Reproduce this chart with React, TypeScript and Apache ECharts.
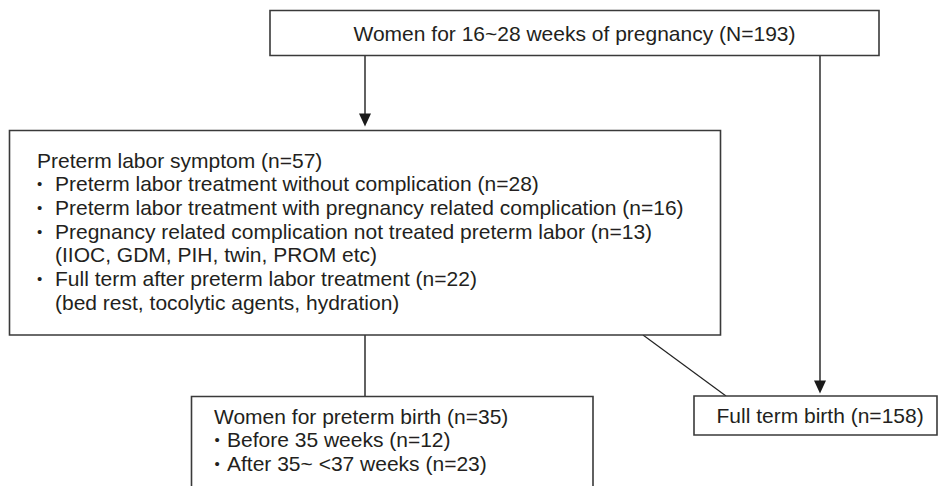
import React, { useEffect, useRef } from "react";
import * as echarts from "echarts";

const topText = "Women for 16~28 weeks of pregnancy (N=193)";
const symptomTitle = "Preterm labor symptom (n=57)";
const symptomItems: string[][] = [
  ["Preterm labor treatment without complication (n=28)"],
  ["Preterm labor treatment with pregnancy related complication (n=16)"],
  ["Pregnancy related complication not treated preterm labor (n=13)", "(IIOC, GDM, PIH, twin, PROM etc)"],
  ["Full term after preterm labor treatment (n=22)", "(bed rest, tocolytic agents, hydration)"],
];
const pretermTitle = "Women for preterm birth (n=35)";
const pretermItems = ["Before 35 weeks (n=12)", "After 35~ <37 weeks (n=23)"];
const fullTermText = "Full term birth (n=158)";

const FONT = "Liberation Sans, Arial, Helvetica, sans-serif";
const TEXT_COLOR = "#231f20";
const LINE_COLOR = "#3a3a3a";

function txt(text: string, x: number, y: number, align: string = "left", size = 21) {
  return {
    type: "text",
    x,
    y,
    silent: true,
    style: {
      text,
      fill: TEXT_COLOR,
      fontSize: size,
      fontFamily: FONT,
      textAlign: align,
      textVerticalAlign: "middle",
    },
  };
}

function box(x: number, y: number, w: number, h: number) {
  return {
    type: "rect",
    shape: { x, y, width: w, height: h },
    style: { fill: "#fff", stroke: LINE_COLOR, lineWidth: 1.6 },
  };
}

function seg(x1: number, y1: number, x2: number, y2: number, w = 1.6, color = LINE_COLOR) {
  return {
    type: "line",
    shape: { x1, y1, x2, y2 },
    style: { stroke: color, lineWidth: w },
  };
}

function arrowHead(x: number, tipY: number) {
  return {
    type: "polygon",
    shape: { points: [[x - 6, tipY - 13], [x + 6, tipY - 13], [x, tipY]] },
    style: { fill: "#1a1a1a" },
  };
}

export default function App() {
  const ref = useRef<HTMLDivElement>(null);
  useEffect(() => {
    document.body.style.margin = "0";
    if (!ref.current) return;
    const chart = echarts.init(ref.current, null, { renderer: "svg" });
    const els: any[] = [];

    // connectors
    els.push(seg(365, 56, 365, 116));
    els.push(arrowHead(365, 126.5));
    els.push(seg(820, 56, 820, 383));
    els.push(arrowHead(820, 393.5));
    els.push(seg(365, 335, 365, 396.5));
    els.push(seg(643, 335, 726, 396, 1.2, "#222"));

    // boxes
    els.push(box(270, 10.5, 609, 45));
    els.push(box(9.5, 130.5, 711, 204.5));
    els.push(box(191.5, 396.5, 401.5, 110));
    els.push(box(694, 396, 243, 39));

    // top box text
    els.push(txt(topText, 574.5, 33, "center"));

    // symptom box
    const lh = 23.7;
    let y = 160;
    els.push(txt(symptomTitle, 37, y));
    symptomItems.forEach((item) => {
      item.forEach((line, i) => {
        y += lh;
        if (i === 0) els.push(txt("•", 39.5, y, "center", 15));
        els.push(txt(line, 55, y));
      });
    });

    // preterm birth box
    let y2 = 416.3;
    els.push(txt(pretermTitle, 214, y2));
    pretermItems.forEach((line) => {
      y2 += 23.5;
      els.push(txt("•", 217, y2, "center", 15));
      els.push(txt(line, 227, y2));
    });

    // full term box
    els.push(txt(fullTermText, 716.5, 415.5));

    chart.setOption({
      animation: false,
      graphic: { elements: els },
    });
    return () => chart.dispose();
  }, []);
  return <div ref={ref} style={{ width: 939, height: 486 }} />;
}
